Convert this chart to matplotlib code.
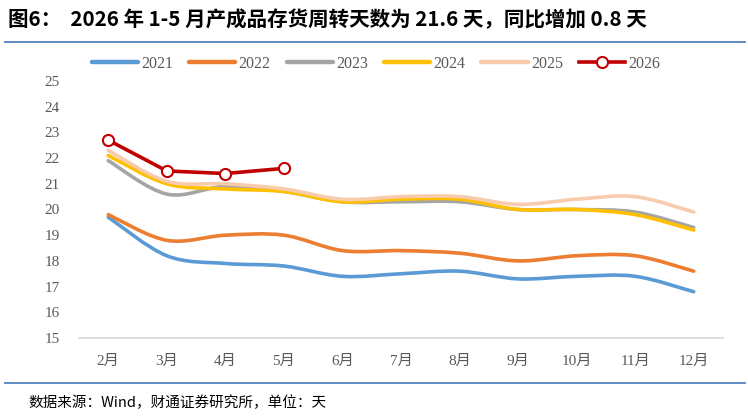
import numpy as np
import matplotlib
matplotlib.use("Agg")
import matplotlib.pyplot as plt
from matplotlib.path import Path
from matplotlib.patches import PathPatch
from matplotlib.lines import Line2D

months = ["2月", "3月", "4月", "5月", "6月", "7月", "8月", "9月", "10月", "11月", "12月"]
y2021 = [19.7, 18.2, 17.9, 17.8, 17.4, 17.5, 17.6, 17.3, 17.4, 17.4, 16.8]
y2022 = [19.8, 18.8, 19.0, 19.0, 18.4, 18.4, 18.3, 18.0, 18.2, 18.2, 17.6]
y2023 = [21.9, 20.6, 20.9, 20.7, 20.3, 20.3, 20.3, 20.0, 20.0, 19.9, 19.3]
y2024 = [22.1, 21.0, 20.8, 20.7, 20.3, 20.4, 20.4, 20.0, 20.0, 19.8, 19.2]
y2025 = [22.3, 21.1, 21.0, 20.8, 20.4, 20.5, 20.5, 20.2, 20.4, 20.5, 19.9]
y2026 = [22.7, 21.5, 21.4, 21.6]

series = [("2021", y2021, "#5b9bd5"), ("2022", y2022, "#ed7d31"),
          ("2023", y2023, "#a5a5a5"), ("2024", y2024, "#ffc000"),
          ("2025", y2025, "#f8cbad")]

cjk = ["Noto Sans CJK SC", "DejaVu Sans"]
tickfont = ["Liberation Serif", "Noto Sans CJK SC"]


def smooth_path(y):
    # excel style smoothed line, bezier through the points
    x = np.arange(len(y), dtype=float)
    y = np.asarray(y, dtype=float)
    pts = np.column_stack([x, y])
    verts = [pts[0]]
    codes = [Path.MOVETO]
    n = len(pts)
    for i in range(n - 1):
        p0 = pts[max(i - 1, 0)]
        p1 = pts[i]
        p2 = pts[i + 1]
        p3 = pts[min(i + 2, n - 1)]
        c1 = p1 + (p2 - p0) / 6
        c2 = p2 - (p3 - p1) / 6
        verts += [c1, c2, p2]
        codes += [Path.CURVE4] * 3
    return Path(verts, codes)


fig = plt.figure(figsize=(7.48, 4.16), dpi=100)
ax = fig.add_axes([79 / 748, 78 / 416, 644 / 748, 257 / 416])

handles = []
for name, vals, col in series:
    patch = PathPatch(smooth_path(vals), facecolor="none", edgecolor=col,
                      lw=2.6, capstyle="round", joinstyle="round")
    ax.add_patch(patch)
    handles.append(Line2D([], [], color=col, lw=3.2, solid_capstyle="round", label=name))

h26, = ax.plot(range(len(y2026)), y2026, color="#c00000", lw=2.6,
               marker="o", ms=8, mfc="white", mec="#c00000", mew=1.5, label="2026")
handles.append(h26)

ax.set_xlim(-0.5, 10.5)
ax.set_ylim(15, 25)
ax.set_yticks(range(15, 26))
ax.set_xticks(range(len(months)))
ax.set_xticklabels(months)
for s in ["top", "right", "left"]:
    ax.spines[s].set_visible(False)
ax.spines["bottom"].set_color("#d9d9d9")
ax.spines["bottom"].set_linewidth(1.2)
ax.tick_params(length=0, colors="#595959", labelsize=11)
ax.tick_params(axis="x", pad=12)
ax.tick_params(axis="y", pad=14)
for lab in ax.get_xticklabels() + ax.get_yticklabels():
    lab.set_family(tickfont)

fig.legend(handles=handles, loc="center", bbox_to_anchor=(376 / 748, 1 - 64 / 416),
           ncol=6, frameon=False, handlelength=2.9, columnspacing=1.0,
           handletextpad=0.2, prop={"family": tickfont, "size": 11.5},
           labelcolor="#595959")

fig.text(8 / 748, 1 - 20 / 416, "图6：  2026 年 1-5 月产成品存货周转天数为 21.6 天，同比增加 0.8 天",
         family=cjk, fontsize=14.8, fontweight="bold", va="center", ha="left")
fig.add_artist(Line2D([5 / 748, 745 / 748], [1 - 42 / 416, 1 - 42 / 416],
                      color="#4f81bd", lw=1.3, transform=fig.transFigure))
fig.add_artist(Line2D([5 / 748, 745 / 748], [1 - 383 / 416, 1 - 383 / 416],
                      color="#4f81bd", lw=1.3, transform=fig.transFigure))
fig.text(28 / 748, 1 - 403 / 416, "数据来源：Wind，财通证券研究所，单位：天",
         family=cjk, fontsize=10.5, va="center", ha="left")

fig.savefig("out.png", dpi=100)
